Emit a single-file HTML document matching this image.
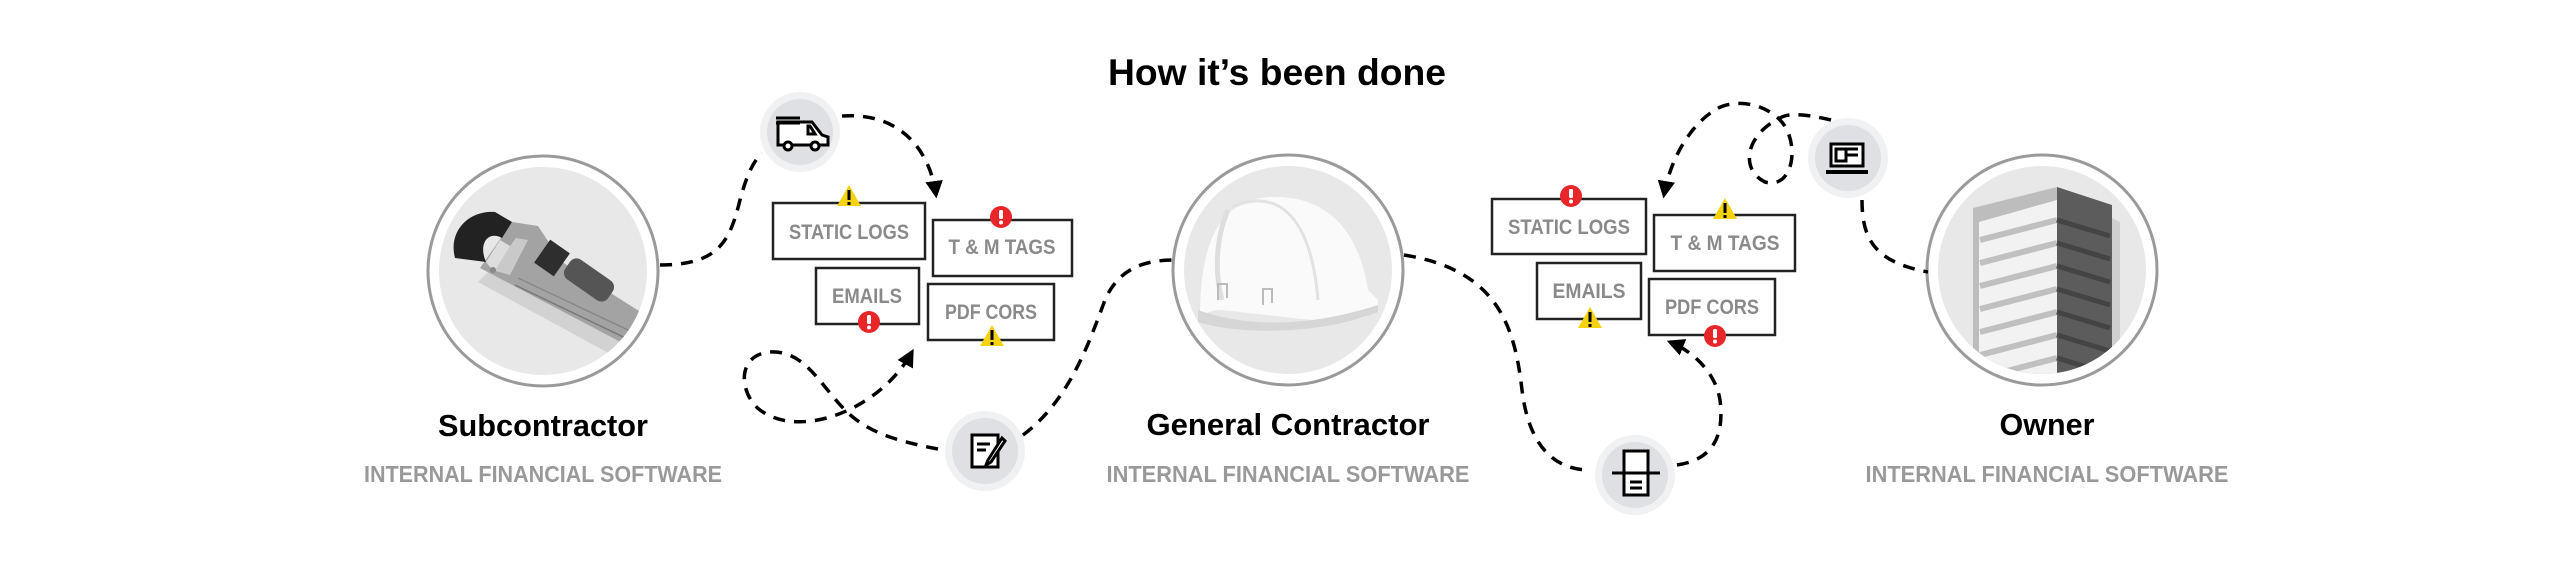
<!DOCTYPE html>
<html><head><meta charset="utf-8"><style>
html,body{margin:0;padding:0;background:#fff;width:2560px;height:568px;overflow:hidden}
svg{display:block}
text{font-family:"Liberation Sans",sans-serif;font-weight:bold}
</style></head><body>
<svg width="2560" height="568" viewBox="0 0 2560 568" xmlns="http://www.w3.org/2000/svg">
<defs>
<clipPath id="c1"><circle cx="543" cy="271" r="104"/></clipPath>
<clipPath id="c2"><circle cx="1288" cy="270" r="104"/></clipPath>
<clipPath id="c3"><circle cx="2042" cy="270" r="104"/></clipPath>
<marker id="ah" viewBox="0 0 10 10" refX="8" refY="5" markerWidth="5" markerHeight="5" orient="auto"><path d="M0,0 L10,5 L0,10 z" fill="#000"/></marker>
<g id="warn"><path d="M0,-13 L12,8 L-12,8 Z" fill="#f5d20f"/><rect x="-1.5" y="-8" width="3" height="10" fill="#000"/><rect x="-1.5" y="4" width="3" height="3" fill="#000"/></g>
<g id="err"><circle r="11" fill="#e8262a"/><rect x="-2" y="-7" width="4" height="9" rx="1.5" fill="#fff"/><circle cy="5.5" r="2" fill="#fff"/></g>
</defs>

<text x="1277" y="85" font-size="37" text-anchor="middle" textLength="338" lengthAdjust="spacingAndGlyphs">How it’s been done</text>

<g fill="none" stroke="#9a9a9a" stroke-width="3">
<circle cx="543" cy="271" r="115" fill="#fff"/>
<circle cx="1288" cy="270" r="115" fill="#fff"/>
<circle cx="2042" cy="270" r="115" fill="#fff"/>
</g>
<circle cx="543" cy="271" r="104" fill="#e8e8e8"/>
<circle cx="1288" cy="270" r="104" fill="#e8e8e8"/>
<circle cx="2042" cy="270" r="104" fill="#e8e8e8"/>

<!-- wrench -->
<g clip-path="url(#c1)">
<polygon points="478,282 498,262 650,345 636,368" fill="#d2d2d2"/>
<polygon points="480,268 512,222 538,226 562,262 650,318 632,348" fill="#a3a3a3"/>
<polygon points="492,270 516,238 528,240 510,275" fill="#c9c9c9"/>
<line x1="515" y1="285" x2="640" y2="345" stroke="#777" stroke-width="1.5"/>
<line x1="518" y1="278" x2="645" y2="338" stroke="#888" stroke-width="1.5"/>
<path d="M455,258 C448,232 468,210 495,212 L512,222 L502,238 C488,230 478,244 486,262 Z" fill="#222"/>
<polygon points="486,262 500,240 510,246 494,272" fill="#ddd"/>
<rect x="540" y="244" width="24" height="28" transform="rotate(35 552 258)" fill="#2e2e2e"/>
<rect x="563" y="268" width="52" height="24" rx="8" transform="rotate(35 589 280)" fill="#555"/>
<circle cx="493" cy="270" r="3" fill="#888"/>
</g>

<!-- helmet -->
<g clip-path="url(#c2)">
<path d="M1200,318 C1200,250 1215,200 1270,197 C1335,195 1360,240 1368,290 L1378,300 C1380,315 1360,322 1330,322 L1222,310 C1205,310 1200,318 1200,318 Z" fill="#fafafa"/>
<path d="M1228,210 C1215,240 1215,275 1222,300" fill="none" stroke="#dedede" stroke-width="5"/>
<path d="M1232,207 C1270,190 1310,205 1318,300" fill="none" stroke="#e2e2e2" stroke-width="3"/>
<path d="M1198,310 C1240,325 1300,330 1378,305 L1378,312 C1320,335 1240,335 1198,322 Z" fill="#d6d6d6"/>
<path d="M1218,300 L1218,284 L1227,284 L1227,298" fill="none" stroke="#bbb" stroke-width="2"/>
<path d="M1263,305 L1263,289 L1272,289 L1272,303" fill="none" stroke="#bbb" stroke-width="2"/>
</g>

<!-- building -->
<g clip-path="url(#c3)">
<path d="M1973,208 L2057,187 L2057,400 L1973,400 Z" fill="#bdbdbd"/>
<path d="M1979,222 L2057,200 L2057,400 L1979,400 Z" fill="#f2f2f2"/>
<path d="M2057,187 L2112,205 L2112,400 L2057,400 Z" fill="#5c5c5c"/>
<path d="M2112,218 L2120,222 L2120,400 L2112,400 Z" fill="#cfcfcf"/>
<g stroke="#c0c0c0" stroke-width="6">
<line x1="1980" y1="240" x2="2057" y2="220"/><line x1="1980" y1="263" x2="2057" y2="243"/>
<line x1="1980" y1="286" x2="2057" y2="266"/><line x1="1980" y1="309" x2="2057" y2="289"/>
<line x1="1980" y1="332" x2="2057" y2="312"/><line x1="1980" y1="355" x2="2057" y2="335"/>
<line x1="1980" y1="378" x2="2057" y2="358"/>
</g>
<g stroke="#444" stroke-width="5">
<line x1="2057" y1="220" x2="2110" y2="236"/><line x1="2057" y1="243" x2="2110" y2="259"/>
<line x1="2057" y1="266" x2="2110" y2="282"/><line x1="2057" y1="289" x2="2110" y2="305"/>
<line x1="2057" y1="312" x2="2110" y2="328"/><line x1="2057" y1="335" x2="2110" y2="351"/>
<line x1="2057" y1="358" x2="2110" y2="374"/>
</g>
</g>

<text x="543" y="436" font-size="31" text-anchor="middle" textLength="210" lengthAdjust="spacingAndGlyphs">Subcontractor</text>
<text x="543" y="482" font-size="23" fill="#999" text-anchor="middle" textLength="358" lengthAdjust="spacingAndGlyphs">INTERNAL FINANCIAL SOFTWARE</text>
<text x="1288" y="435" font-size="31" text-anchor="middle" textLength="283" lengthAdjust="spacingAndGlyphs">General Contractor</text>
<text x="1288" y="482" font-size="23" fill="#999" text-anchor="middle" textLength="363" lengthAdjust="spacingAndGlyphs">INTERNAL FINANCIAL SOFTWARE</text>
<text x="2047" y="435" font-size="31" text-anchor="middle" textLength="95" lengthAdjust="spacingAndGlyphs">Owner</text>
<text x="2047" y="482" font-size="23" fill="#999" text-anchor="middle" textLength="363" lengthAdjust="spacingAndGlyphs">INTERNAL FINANCIAL SOFTWARE</text>

<g fill="none" stroke="#000" stroke-width="3.5" stroke-dasharray="12 9">
<path d="M660,265 C720,265 730,240 740,200 C748,170 755,160 762,153"/>
<path d="M842,116 C900,112 930,150 936,195" marker-end="url(#ah)"/>
<path d="M938,449 C890,440 865,430 845,410 C820,385 805,350 770,352 C735,355 740,395 760,410 C800,440 880,410 912,352" marker-end="url(#ah)"/>
<path d="M1023,435 C1070,400 1090,340 1105,300 C1120,265 1150,260 1175,260"/>
<path d="M1404,255 C1500,270 1515,330 1522,390 C1528,440 1550,470 1590,470"/>
<path d="M1677,465 C1710,460 1725,440 1720,400 C1715,370 1690,350 1670,342" marker-end="url(#ah)"/>
<path d="M1831,120 C1810,115 1790,112 1780,118 C1745,135 1740,170 1765,182 C1795,190 1800,140 1780,120 C1760,100 1730,100 1715,110 C1690,125 1670,160 1664,195" marker-end="url(#ah)"/>
<path d="M1862,200 C1862,240 1875,262 1928,272"/>
</g>

<g>
<circle cx="800" cy="132" r="40" fill="#f0f1f3"/><circle cx="800" cy="132" r="33" fill="#dfe0e3"/>
<circle cx="985" cy="451" r="40" fill="#f0f1f3"/><circle cx="985" cy="451" r="33" fill="#dfe0e3"/>
<circle cx="1635" cy="475" r="40" fill="#f0f1f3"/><circle cx="1635" cy="475" r="33" fill="#dfe0e3"/>
<circle cx="1848" cy="158" r="40" fill="#f0f1f3"/><circle cx="1848" cy="158" r="33" fill="#dfe0e3"/>
</g>
<g fill="none" stroke="#000" stroke-width="3">
<path d="M778,122 L812,122 L822,135 L828,137 L828,145 L778,145 Z" fill="#fff"/>
<path d="M810,126 L815,134 L808,134 L808,126 Z"/>
<line x1="776" y1="118" x2="800" y2="118"/><line x1="776" y1="123" x2="800" y2="123"/>
<circle cx="788" cy="146" r="4" fill="#fff"/><circle cx="815" cy="146" r="4" fill="#fff"/>
</g>
<g fill="none" stroke="#000" stroke-width="3">
<rect x="972" y="435" width="26" height="32" fill="#fff"/>
<line x1="977" y1="444" x2="990" y2="444"/><line x1="977" y1="450" x2="986" y2="450"/>
<path d="M1002,438 L988,460 L986,465 L991,462 L1005,441 Z" fill="#fff"/>
</g>
<g fill="none" stroke="#000" stroke-width="3">
<rect x="1624" y="451" width="24" height="44" fill="#fff"/>
<line x1="1612" y1="473" x2="1660" y2="473"/>
<line x1="1630" y1="482" x2="1642" y2="482"/><line x1="1630" y1="488" x2="1642" y2="488"/>
</g>
<g fill="none" stroke="#000" stroke-width="3">
<rect x="1831" y="144" width="32" height="22" fill="#fff"/>
<line x1="1826" y1="172" x2="1868" y2="172" stroke-width="4"/>
<rect x="1836" y="149" width="10" height="12"/><line x1="1846" y1="155" x2="1858" y2="155"/><line x1="1846" y1="149" x2="1858" y2="149"/>
</g>

<g fill="#fff" stroke="#222" stroke-width="2.5">
<rect x="773" y="203" width="152" height="56"/>
<rect x="933" y="220" width="139" height="56"/>
<rect x="816" y="268" width="103" height="56"/>
<rect x="928" y="284" width="126" height="56"/>
<rect x="1492" y="199" width="154" height="55"/>
<rect x="1654" y="215" width="141" height="56"/>
<rect x="1537" y="263" width="104" height="56"/>
<rect x="1649" y="279" width="126" height="56"/>
</g>
<g fill="#8a8a8a" font-size="21" text-anchor="middle">
<text x="849" y="239" textLength="120" lengthAdjust="spacingAndGlyphs">STATIC LOGS</text>
<text x="1002" y="254" textLength="107" lengthAdjust="spacingAndGlyphs">T &amp; M TAGS</text>
<text x="867" y="303" textLength="70" lengthAdjust="spacingAndGlyphs">EMAILS</text>
<text x="991" y="319" textLength="92" lengthAdjust="spacingAndGlyphs">PDF CORS</text>
<text x="1569" y="234" textLength="122" lengthAdjust="spacingAndGlyphs">STATIC LOGS</text>
<text x="1725" y="250" textLength="109" lengthAdjust="spacingAndGlyphs">T &amp; M TAGS</text>
<text x="1589" y="298" textLength="73" lengthAdjust="spacingAndGlyphs">EMAILS</text>
<text x="1712" y="314" textLength="94" lengthAdjust="spacingAndGlyphs">PDF CORS</text>
</g>
<use href="#warn" x="849" y="198"/>
<use href="#err" x="1001" y="217"/>
<use href="#err" x="869" y="322"/>
<use href="#warn" x="992" y="338"/>
<use href="#err" x="1571" y="196"/>
<use href="#warn" x="1725" y="211"/>
<use href="#warn" x="1590" y="320"/>
<use href="#err" x="1715" y="336"/>
</svg>
</body></html>
